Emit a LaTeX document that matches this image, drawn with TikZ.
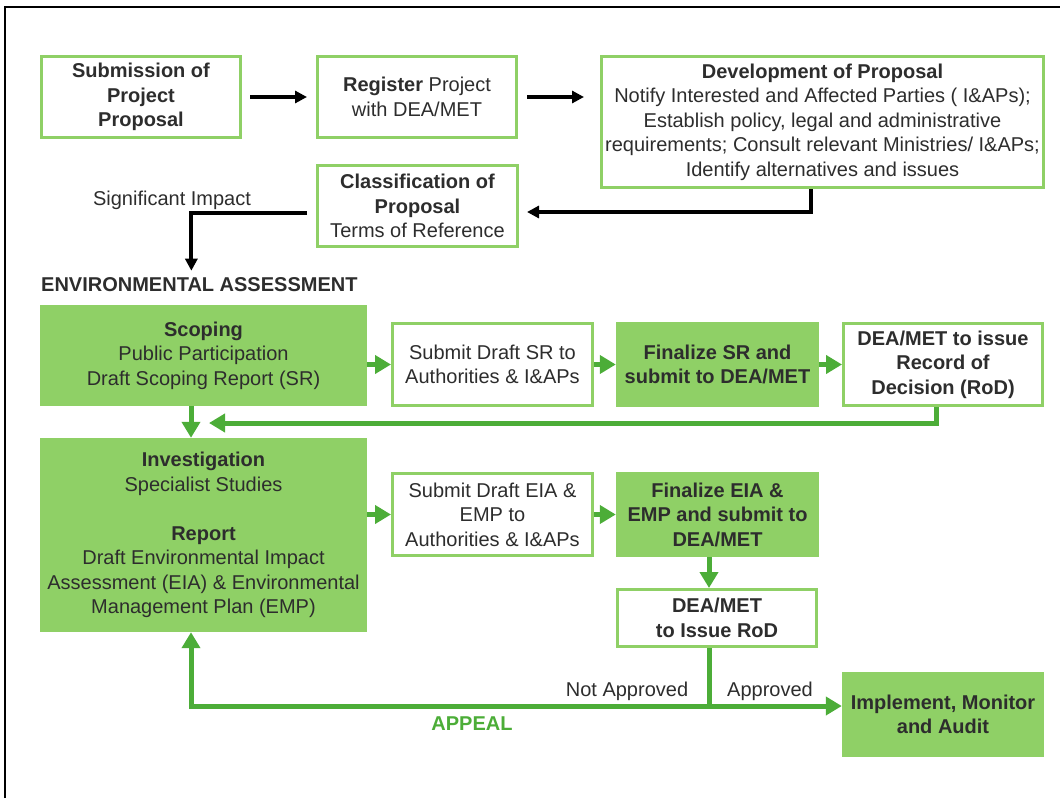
\documentclass[tikz,border=0pt]{standalone}
\usepackage{fontspec}
\setmainfont{Liberation Sans}
\usetikzlibrary{arrows.meta}
\definecolor{boxgreen}{RGB}{143,208,102}
\definecolor{linegreen}{RGB}{76,173,56}
\definecolor{txtgrey}{RGB}{45,45,45}
\begin{document}
\begin{tikzpicture}[x=1pt,y=-1pt,font=\fontsize{20}{24.5}\selectfont,line join=miter,
	wbox/.style={draw=boxgreen,line width=3pt,fill=white,align=center,inner sep=0pt,text=txtgrey},
	gbox/.style={fill=boxgreen,align=center,inner sep=0pt,text=txtgrey},
	blk/.style={line width=4pt,-{Triangle[length=12pt,width=12pt]}},
	grn/.style={draw=linegreen,line width=5pt,-{Triangle[length=16pt,width=18pt]}},
	lbl/.style={inner sep=0pt,text=txtgrey}]
	\useasboundingbox (0,0) rectangle (1060,798);
	\draw[line width=2pt] (5,798) -- (5,7) -- (1060,7);
	% top row
	\node[wbox,minimum width=199pt,minimum height=81pt] (sub) at (141,97) {\textbf{Submission of}\\\textbf{Project}\\\textbf{Proposal}};
	\node[wbox,minimum width=199pt,minimum height=81pt] (reg) at (417,97) {\textbf{Register} Project\\with DEA/MET};
	\node[wbox,minimum width=442pt,minimum height=131pt] (dev) at (822.5,122) {\textbf{Development of Proposal}\\Notify Interested and Affected Parties ( I\&APs);\\Establish policy, legal and administrative\\requirements; Consult relevant Ministries/ I\&APs;\\Identify alternatives and issues};
	\node[wbox,minimum width=200pt,minimum height=81pt] (cls) at (417.5,206) {\textbf{Classification of}\\\textbf{Proposal}\\Terms of Reference};
	\node[lbl] (sig) at (172,200) {Significant Impact};
	\node[lbl,anchor=west] (ea) at (41,285) {\textbf{ENVIRONMENTAL ASSESSMENT}};
	\draw[blk,shorten <=8pt,shorten >=9pt] (sub) -- (reg);
	\draw[blk,shorten <=9pt,shorten >=16pt] (reg.east) -- (reg.east -| dev.west);
	\draw[blk] ([xshift=-12pt]dev.south) |- ([xshift=8pt,yshift=-6pt]cls.east);
	\draw[blk,shorten >=7pt] ([xshift=-9pt,yshift=-7pt]cls.west) -| ([xshift=-8pt]ea.north);
	% scoping row
	\node[gbox,minimum width=327pt,minimum height=101pt] (scop) at (203.5,355.5) {\textbf{Scoping}\\Public Participation\\Draft Scoping Report (SR)};
	\node[wbox,minimum width=200pt,minimum height=82pt] (ssr) at (492.5,364.5) {Submit Draft SR to\\Authorities \& I\&APs};
	\node[gbox,minimum width=203pt,minimum height=85pt] (fsr) at (717.5,364.5) {\textbf{Finalize SR and}\\\textbf{submit to DEA/MET}};
	\node[wbox,minimum width=199pt,minimum height=82pt] (rod1) at (943,364.5) {\textbf{DEA/MET to issue}\\\textbf{Record of}\\\textbf{Decision (RoD)}};
	% investigation row
	\node[gbox,minimum width=327pt,minimum height=194pt] (inv) at (203.5,535) {\textbf{Investigation}\\Specialist Studies\\[24.5pt]\textbf{Report}\\Draft Environmental Impact\\Assessment (EIA) \& Environmental\\Management Plan (EMP)};
	\node[wbox,minimum width=200pt,minimum height=82pt] (seia) at (492.5,514.5) {Submit Draft EIA \&\\EMP to\\Authorities \& I\&APs};
	\node[gbox,minimum width=203pt,minimum height=85pt] (feia) at (717.5,514.5) {\textbf{Finalize EIA \&}\\\textbf{EMP and submit to}\\\textbf{DEA/MET}};
	\node[wbox,minimum width=199pt,minimum height=57pt] (rod2) at (717,618) {\textbf{DEA/MET}\\\textbf{to Issue RoD}};
	\node[gbox,minimum width=202pt,minimum height=85pt] (impl) at (943,714.5) {\textbf{Implement, Monitor}\\\textbf{and Audit}};
	\node[lbl] (na) at (627,691) {Not Approved};
	\node[lbl] (ap) at (770,691) {Approved};
	\node[inner sep=0pt,text=linegreen] (appeal) at (472,724) {\textbf{APPEAL}};
	\coordinate (ret) at (209,423);
	\coordinate (split) at (709,706);
	\draw[grn] (ssr.west -| scop.east) -- (ssr.west);
	\draw[grn] (ssr) -- (fsr);
	\draw[grn] (fsr) -- (rod1);
	\draw[grn] ([xshift=-7pt]rod1.south) |- (ret);
	\draw[grn] ([xshift=-12.5pt]scop.south) -- ([xshift=-12.5pt]inv.north);
	\draw[grn] (seia.west -| inv.east) -- (seia.west);
	\draw[grn] (seia) -- (feia);
	\draw[grn] ([xshift=-8.5pt]feia.south) -- ([xshift=-8pt]rod2.north);
	\draw[grn,-] ([xshift=-8pt]rod2.south) -- (split);
	\draw[grn] (split) -- (split -| impl.west);
	\draw[grn] (split) -| ([xshift=-12.5pt]inv.south);
\end{tikzpicture}
\end{document}
